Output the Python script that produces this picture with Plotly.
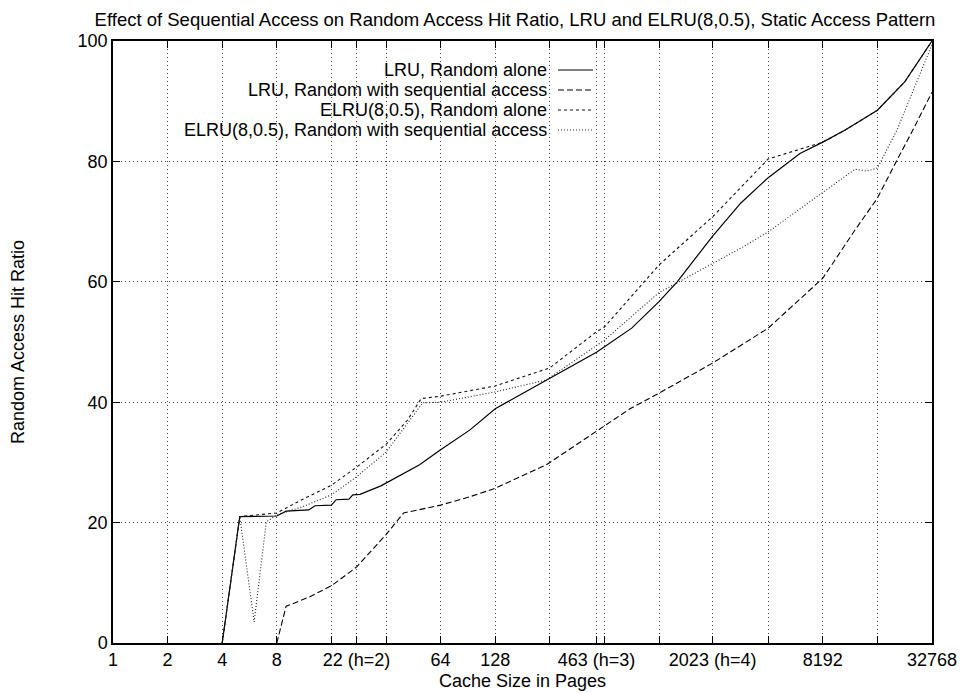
import plotly.graph_objects as go

# ---------------- data ----------------
lru_alone_x = [4, 5, 8, 9, 12, 13, 16, 17, 20, 21, 23, 30, 49, 64, 93, 128, 175, 247, 463, 724, 1024, 1290, 1620, 2023, 2896, 4096, 6130, 8192, 10880, 16384, 23170, 32768]
lru_alone_y = [0, 21, 21.1, 21.9, 22.1, 22.8, 22.9, 23.8, 23.9, 24.6, 24.7, 26.1, 29.6, 32.1, 35.4, 38.9, 41.2, 43.7, 48.3, 52.3, 56.7, 60.0, 63.8, 67.6, 73.1, 77.3, 81.3, 83.2, 85.2, 88.5, 93.2, 100]

lru_seq_x = [8, 9, 12, 16, 22, 32, 40, 64, 93, 128, 245, 463, 708, 1024, 2023, 4096, 8192, 12330, 16384, 21000, 25700, 32768]
lru_seq_y = [0, 6.1, 7.6, 9.5, 12.6, 18.0, 21.6, 22.9, 24.3, 25.7, 29.6, 35.2, 38.9, 41.5, 46.5, 52.3, 60.6, 68.6, 73.9, 80.2, 85.2, 91.5]

elru_alone_x = [4, 5, 8, 11, 16, 22, 32, 42, 50, 64, 128, 256, 463, 512, 1024, 1620, 2023, 4096, 8192, 10880, 16384, 23170, 32768]
elru_alone_y = [0, 21, 21.6, 23.8, 26.2, 29.2, 33.0, 37.0, 40.6, 41.0, 42.7, 45.7, 51.7, 52.5, 62.8, 68.2, 70.8, 80.4, 83.2, 85.2, 88.5, 93.2, 100]

elru_seq_x = [4, 5, 6, 7, 8, 11, 16, 22, 32, 43, 51, 64, 128, 245, 463, 512, 1024, 2023, 2980, 4096, 8192, 12330, 14350, 16384, 21000, 32768]
elru_seq_y = [0, 21, 3.5, 20.1, 21.3, 22.6, 24.6, 27.6, 31.7, 37.0, 39.9, 40.0, 41.7, 43.7, 49.5, 50.3, 58.2, 63.1, 65.8, 68.3, 74.8, 78.7, 78.4, 78.9, 85.2, 99.4]

series_names = [
    "LRU, Random alone",
    "LRU, Random with sequential access",
    "ELRU(8,0.5), Random alone",
    "ELRU(8,0.5), Random with sequential access",
]

x_tick_vals = [1, 2, 4, 8, 16, 22, 32, 64, 128, 256, 463, 512, 1024, 2023, 4096, 8192, 16384, 32768]
x_tick_text = ["1", "2", "4", "8", "", "22 (h=2)", "", "64", "128", "", "463 (h=3)", "", "", "2023 (h=4)", "", "8192", "", "32768"]
y_tick_vals = [0, 20, 40, 60, 80, 100]

title_text = "Effect of Sequential Access on Random Access Hit Ratio, LRU and ELRU(8,0.5), Static Access Pattern"
x_title = "Cache Size in Pages"
y_title = "Random Access Hit Ratio"

# ---------------- styles ----------------
FONT = "Liberation Sans, Arial, sans-serif"
FS = 18
styles = [
    dict(color="#000000", width=1.2, dash="solid"),
    dict(color="#000000", width=1.1, dash="6px,3px"),
    dict(color="#111111", width=1.1, dash="3px,3px"),
    dict(color="#222222", width=1.1, dash="1px,2px"),
]

fig = go.Figure()
for (xs, ys), name, st in zip(
    [(lru_alone_x, lru_alone_y), (lru_seq_x, lru_seq_y), (elru_alone_x, elru_alone_y), (elru_seq_x, elru_seq_y)],
    series_names, styles,
):
    fig.add_trace(go.Scatter(x=xs, y=ys, mode="lines", name=name, line=st, showlegend=False))

# custom legend (text right-aligned, line sample to its right), like gnuplot
L, R, T, B = 113, 28, 41, 50
W, H = 960 - L - R, 693 - T - B
text_right_px = 548
sample_x0_px, sample_x1_px = 558, 593
row_y_px = [70, 90, 110, 130]
for name, st, ypx in zip(series_names, styles, row_y_px):
    yp = (693 - B - ypx) / H
    fig.add_annotation(
        x=(text_right_px - L) / W, y=yp, xref="paper", yref="paper",
        text=name, showarrow=False, xanchor="right", yanchor="middle", borderpad=0,
        font=dict(family=FONT, size=FS, color="#000"),
    )
    fig.add_shape(
        type="line", xref="paper", yref="paper",
        x0=(sample_x0_px - L) / W, x1=(sample_x1_px - L) / W, y0=yp, y1=yp,
        line=dict(color=st["color"], width=st["width"], dash=st["dash"]),
    )

# axis titles as annotations for exact placement
fig.add_annotation(
    x=(522 - L) / W, y=(693 - B - 681) / H, xref="paper", yref="paper",
    text=x_title, showarrow=False, xanchor="center", yanchor="middle",
    font=dict(family=FONT, size=FS, color="#000"),
)
fig.add_annotation(
    x=(18 - L) / W, y=(693 - B - 342) / H, xref="paper", yref="paper",
    text=y_title, showarrow=False, xanchor="center", yanchor="middle", textangle=-90,
    font=dict(family=FONT, size=FS, color="#000"),
)

fig.update_layout(
    width=960, height=693,
    margin=dict(l=L, r=R, t=T, b=B, autoexpand=False),
    paper_bgcolor="white", plot_bgcolor="white",
    font=dict(family=FONT, size=FS, color="#000"),
    title=dict(text=title_text, x=515 / 960, xanchor="center", y=1 - 20 / 693, yanchor="middle",
               font=dict(family=FONT, size=18.5, color="#000")),
    showlegend=False,
)

fig.update_xaxes(
    type="log", range=[0, 4.5154499], tickvals=x_tick_vals, ticktext=x_tick_text,
    showgrid=True, gridcolor="#444", griddash="1px,3px", gridwidth=1,
    showline=True, linecolor="#000", linewidth=1.5, mirror="allticks",
    ticks="inside", ticklen=7, tickcolor="#000", tickwidth=1,
    zeroline=False, tickangle=0, automargin=False,
    tickfont=dict(family=FONT, size=FS),
)
fig.update_yaxes(
    range=[0, 100], tickvals=y_tick_vals,
    showgrid=True, gridcolor="#444", griddash="1px,3px", gridwidth=1,
    showline=True, linecolor="#000", linewidth=1.5, mirror="allticks",
    ticks="inside", ticklen=7, tickcolor="#000", tickwidth=1,
    zeroline=False, automargin=False,
    tickfont=dict(family=FONT, size=FS),
)

fig.write_html("out.html")
